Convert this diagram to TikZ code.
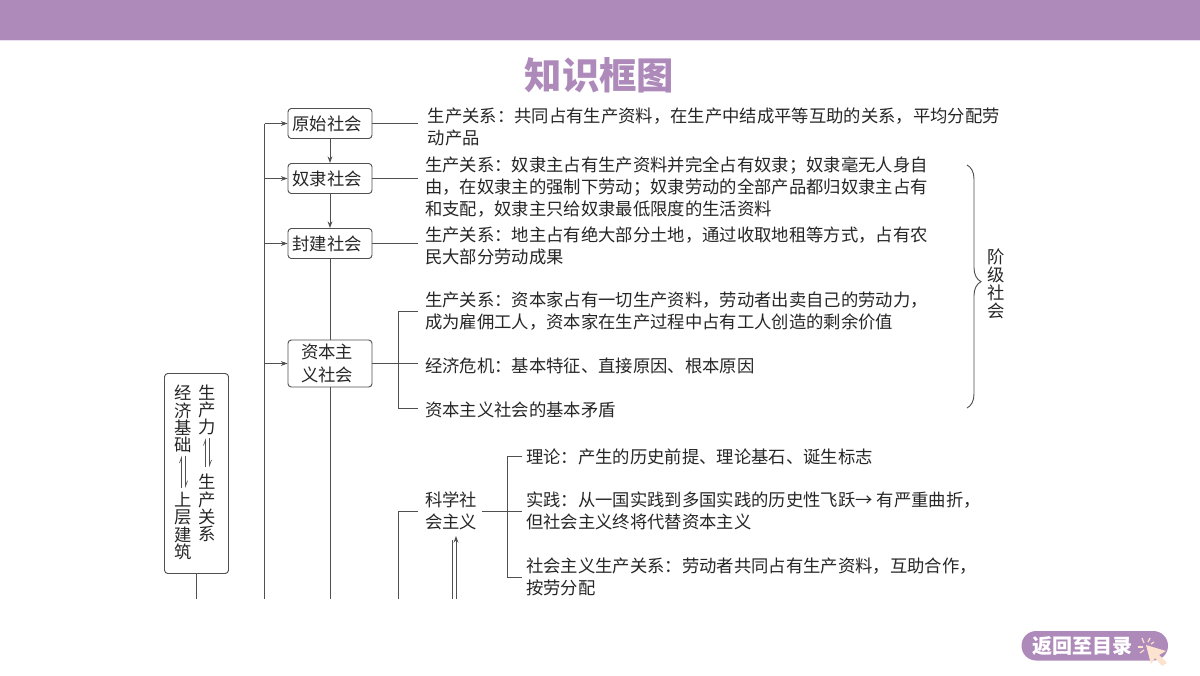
\documentclass[tikz,border=0pt]{standalone}
\usepackage{fontspec}
\setmainfont{Noto Sans CJK SC}
\usetikzlibrary{arrows.meta,decorations.pathreplacing}
\definecolor{headpurple}{HTML}{AE8ABB}
\definecolor{headedge}{HTML}{E9DFEE}
\definecolor{linegray}{HTML}{505050}
\definecolor{handcream}{HTML}{FBE3CF}
\newcommand{\eraline}[1]{#1\hspace*{4.5pt}}
\tikzset{
    era/.style={draw=linegray, line width=0.7pt, rounded corners=2.5pt, align=center, inner sep=0pt, minimum width=63pt, text=black!85, font=\fontsize{13pt}{17pt}\selectfont},
    note/.style={anchor=north west, align=left, inner sep=0pt, text=black!85, font=\fontsize{13pt}{16.5pt}\selectfont},
    column/.style={align=center, inner sep=0pt, text=black!85, font=\fontsize{13pt}{13pt}\selectfont},
    link/.style={draw=linegray, line width=0.7pt},
    flow/.style={link, -{Stealth[length=5pt,width=3.6pt]}},
    harpoon/.style={link, line width=0.5pt, -{Straight Barb[harpoon,length=4pt,width=3pt]}},
    spark/.style={draw=handcream, line width=0.9pt}
}
\begin{document}
\begin{tikzpicture}[x=0.75pt, y=-0.75pt]
    \useasboundingbox (0,0) rectangle (1200,675);
    \pgfmathsetmacro{\cutY}{599}
    \fill [headpurple] (0,0) rectangle (1200,40);
    \fill [headedge] (0,40) rectangle (1200,41);
    \node [font=\fontsize{28pt}{28pt}\selectfont\bfseries, text=headpurple] (title) at (599.5,75) {知识框图};

    \node [era, minimum height=22.5pt] (yuanshi) at (330,123.5) {\eraline{原始社会}};
    \node [era, minimum height=22.5pt] (nuli) at (330,178.5) {\eraline{奴隶社会}};
    \node [era, minimum height=22.5pt] (fengjian) at (330,243.5) {\eraline{封建社会}};
    \node [era, minimum height=35.25pt] (ziben) at (330,363.5) {\eraline{资本主}\\\eraline{义社会}};
    \node [draw=linegray, line width=0.7pt, rounded corners=2.5pt, minimum width=48pt, minimum height=150pt, inner sep=0pt] (jichu) at (196.5,473.5) {};

    \node [column] (shengli) at (207.5,410) {生\\产\\力};
    \node [column] (guanxi) at (207.5,508) {生\\产\\关\\系};
    \node [column] (jingji) at (183.5,419) {经\\济\\基\\础};
    \node [column] (shangceng) at (183.5,526) {上\\层\\建\\筑};
    \draw [harpoon] ([xshift=-1.5pt, yshift=5pt]guanxi.north) -- ([xshift=-1.5pt, yshift=-2pt]shengli.south);
    \draw [harpoon] ([xshift=1.5pt, yshift=-2pt]shengli.south) -- ([xshift=1.5pt, yshift=5pt]guanxi.north);
    \draw [harpoon] ([xshift=-1.5pt, yshift=3pt]shangceng.north) -- ([xshift=-1.5pt, yshift=-2pt]jingji.south);
    \draw [harpoon] ([xshift=1.5pt, yshift=-2pt]jingji.south) -- ([xshift=1.5pt, yshift=3pt]shangceng.north);

    \node [note] (n1) at (427.5,108) {生产关系：共同占有生产资料，在生产中结成平等互助的关系，平均分配劳\\动产品};
    \node [note] (n2) at (425,156) {生产关系：奴隶主占有生产资料并完全占有奴隶；奴隶毫无人身自\\由，在奴隶主的强制下劳动；奴隶劳动的全部产品都归奴隶主占有\\和支配，奴隶主只给奴隶最低限度的生活资料};
    \node [note] (n3) at (425,226) {生产关系：地主占有绝大部分土地，通过收取地租等方式，占有农\\民大部分劳动成果};
    \node [note] (n4) at (425,292) {生产关系：资本家占有一切生产资料，劳动者出卖自己的劳动力，\\成为雇佣工人，资本家在生产过程中占有工人创造的剩余价值};
    \node [note] (n5) at (425,358) {经济危机：基本特征、直接原因、根本原因};
    \node [note] (n6) at (425,402) {资本主义社会的基本矛盾};
    \node [note] (kexue) at (425,492) {科学社\\会主义};
    \node [note] (n7) at (526,449) {理论：产生的历史前提、理论基石、诞生标志};
    \node [note] (n8) at (526,492) {实践：从一国实践到多国实践的历史性飞跃→ 有严重曲折，\\但社会主义终将代替资本主义};
    \node [note] (n9) at (526,558) {社会主义生产关系：劳动者共同占有生产资料，互助合作，\\按劳分配};
    \node [column, font=\fontsize{13pt}{13.5pt}\selectfont] (jieji) at (996,284) {阶\\级\\社\\会};

    \coordinate (trunktop) at (264.5,123.5);
    \coordinate (trunkcut) at (264.5,\cutY);
    \draw [link] (trunktop) -- (trunkcut);
    \foreach \boxname in {yuanshi, nuli, fengjian, ziben}
        \draw [flow] (trunktop |- \boxname.west) -- (\boxname.west);
    \draw [flow] (yuanshi) -- (nuli);
    \draw [flow] (nuli) -- (fengjian);
    \draw [link] (fengjian) -- (ziben);
    \coordinate (zibencut) at (330,\cutY);
    \draw [link] (ziben) -- (zibencut);
    \coordinate (jichucut) at (196.5,\cutY);
    \draw [link] (jichu) -- (jichucut);

    \coordinate (noteend) at (418,0);
    \draw [link] (yuanshi.east) -- (noteend |- yuanshi.east);
    \draw [link] (nuli.east) -- (noteend |- nuli.east);
    \draw [link] (fengjian.east) -- (noteend |- fengjian.east);
    \draw [link] (ziben.east) -- (noteend |- ziben.east);
    \coordinate (b4) at (418,311);
    \coordinate (b6) at (418,408);
    \draw [link] (b4) -- (398,311) -- (398,408) -- (b6);
    \coordinate (b7) at (418,511);
    \coordinate (leftcut) at (398,\cutY);
    \draw [link] (b7) -- (398,511) -- (leftcut);

    \coordinate (r7) at (522,456);
    \coordinate (r8) at (522,511);
    \coordinate (r9) at (522,577);
    \coordinate (r0) at (482,511);
    \draw [link] (r7) -- (507,456) -- (507,577) -- (r9);
    \draw [link] (r0) -- (r8);

    \coordinate (upleft) at (452,\cutY);
    \coordinate (upright) at (456,\cutY);
    \draw [link] (upleft) -- (452,540);
    \draw [flow] (upright) -- (456,536);

    \coordinate (bracetop) at (967,165);
    \coordinate (bracebot) at (967,408);
    \draw [link, decorate, decoration={brace, amplitude=10.5pt, aspect=0.48}] (bracetop) -- (bracebot);

    \fill [headpurple, rounded corners=11pt] (1021.5,631) rectangle (1168,660.5);
    \node [font=\fontsize{15pt}{15pt}\selectfont\bfseries, text=white] (back) at (1082,646) {返回至目录};
    \fill [handcream] (1146,645) -- (1166,651) -- (1159,655) -- (1167,663) -- (1162,666) -- (1155,658) -- (1151,664) -- cycle;
    \draw [spark] (1142,638) -- (1144,643);
    \draw [spark] (1150,638) -- (1148,642);
    \draw [spark] (1138,647) -- (1143,647);
    \draw [spark] (1154,642) -- (1151,644);
    \draw [spark] (1140,653) -- (1144,650);
\end{tikzpicture}
\end{document}
